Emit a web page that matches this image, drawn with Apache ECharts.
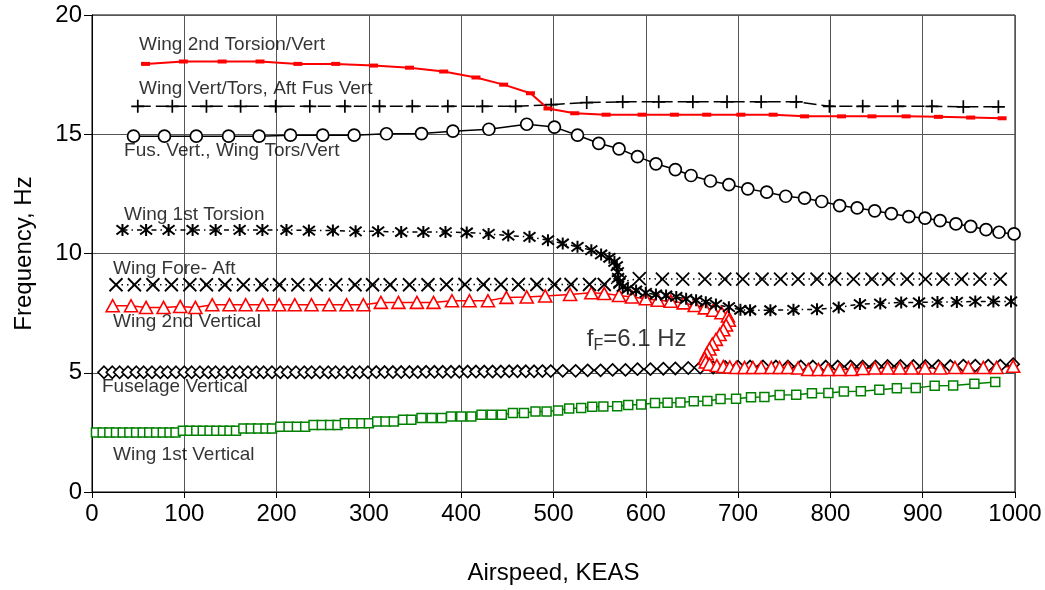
<!DOCTYPE html>
<html><head><meta charset="utf-8">
<script src="https://cdn.jsdelivr.net/npm/echarts@6/dist/echarts.min.js"></script>
<style>html,body{margin:0;padding:0;background:#fff}#c{width:1045px;height:590px}</style>
</head><body><div id="c"></div>
<script>
// Wing 2nd Torsion/Vert (red, small filled rects)
const t2X = [58, 99, 141, 182, 223, 264, 305, 344, 381, 416, 446, 475, 494, 523, 557, 596, 631, 666, 703, 738, 772, 812, 845, 882, 917, 952, 986];
const t2Y = [17.95, 18.05, 18.05, 18.05, 17.95, 17.95, 17.88, 17.79, 17.63, 17.38, 17.08, 16.72, 16.08, 15.88, 15.82, 15.82, 15.82, 15.82, 15.82, 15.82, 15.75, 15.75, 15.75, 15.75, 15.73, 15.7, 15.67];
// Wing Vert/Tors, Aft Fus Vert (+)
const vtX = [49.6, 87, 124, 161, 199, 236, 274, 311.5, 347, 385.5, 423, 459, 497.5, 536, 575, 614, 651, 688, 725, 763, 799, 835, 873, 910, 944, 982];
const vtY = [16.17, 16.17, 16.17, 16.17, 16.17, 16.17, 16.17, 16.17, 16.17, 16.17, 16.17, 16.17, 16.24, 16.33, 16.36, 16.36, 16.36, 16.36, 16.36, 16.36, 16.17, 16.17, 16.17, 16.17, 16.15, 16.15];
// Fus. Vert., Wing Tors/Vert (circles)
const fvX = [45, 78.5, 113, 148, 181, 215, 250, 284, 319, 357, 391, 430, 471, 501, 526, 549, 571, 591, 611, 632, 649, 670, 690, 710.5, 731, 751.6, 772, 790.6, 810, 829, 848, 866, 885, 902.5, 918.8, 936, 952, 968.6, 982.7, 999];
const fvY = [14.92, 14.92, 14.92, 14.92, 14.92, 14.96, 14.96, 14.96, 15.02, 15.03, 15.13, 15.21, 15.42, 15.3, 14.96, 14.62, 14.39, 14.06, 13.76, 13.52, 13.27, 13.04, 12.89, 12.71, 12.57, 12.4, 12.32, 12.18, 12.01, 11.91, 11.79, 11.67, 11.55, 11.48, 11.38, 11.24, 11.14, 11.0, 10.89, 10.82];
// Wing 1st Torsion (asterisks)
const w1tX = [33, 58.6, 83, 109, 134, 160, 184.6, 210.7, 235, 261, 285.6, 310, 335, 359, 383, 406, 429.7, 451, 474, 494, 510, 526, 541, 551.6, 560.6, 566, 568.6, 569.7, 570, 571.5, 575, 580.5, 589.5, 600, 611, 622, 633, 643.7, 654.5, 665, 676, 690, 702.5, 713, 735, 760, 785.5, 809, 832, 854, 876.7, 896, 916, 937, 957, 976.6, 995.7];
const w1tY = [10.99, 10.99, 10.99, 10.99, 10.99, 10.99, 10.99, 10.99, 10.96, 10.96, 10.93, 10.93, 10.9, 10.9, 10.9, 10.88, 10.82, 10.75, 10.7, 10.56, 10.42, 10.28, 10.14, 9.96, 9.82, 9.65, 9.47, 9.22, 8.98, 8.77, 8.6, 8.52, 8.45, 8.35, 8.28, 8.24, 8.18, 8.1, 8.04, 7.96, 7.86, 7.75, 7.64, 7.62, 7.62, 7.64, 7.66, 7.74, 7.88, 7.9, 7.95, 7.95, 7.97, 7.97, 7.99, 7.99, 7.99];
// Wing Fore-Aft (x)
const faX = [26, 46, 66, 86, 106, 124, 144, 164, 184, 203, 223, 243, 264, 285, 304, 323, 344, 364, 384, 404, 424, 443, 462, 482, 501, 519, 539, 555, 572, 593, 618, 640, 664, 685.6, 705, 726, 746, 765, 785.5, 804.6, 825, 845, 863, 883, 903, 922, 942, 962, 984];
const faY = [8.69, 8.69, 8.69, 8.69, 8.69, 8.69, 8.69, 8.69, 8.69, 8.69, 8.69, 8.69, 8.69, 8.69, 8.69, 8.69, 8.69, 8.69, 8.7, 8.7, 8.7, 8.7, 8.7, 8.7, 8.7, 8.7, 8.7, 8.7, 8.8, 8.95, 8.93, 8.93, 8.93, 8.93, 8.93, 8.93, 8.93, 8.93, 8.93, 8.93, 8.93, 8.93, 8.93, 8.93, 8.93, 8.93, 8.93, 8.93, 8.93];
// Wing 2nd Vertical (triangles)
const w2vX = [22.4, 42.3, 58.6, 77.5, 95.6, 112, 130.3, 149, 166.5, 185, 202.7, 219.7, 237.8, 257, 275.8, 294, 313, 332, 352, 370, 390, 409, 429, 449, 471, 491, 518, 541, 555, 571, 585, 600, 613, 627, 641, 653, 664, 673, 682, 689, 690, 687, 684, 680, 676, 672, 669, 666, 664, 665, 669, 677, 684, 691, 698, 707, 716, 725, 736, 745, 754, 765, 776, 787, 797.5, 810, 823, 835, 848, 862, 875, 888, 902.5, 919, 935, 949.5, 965.7, 980, 998];
const w2vY = [7.81, 7.81, 7.74, 7.74, 7.78, 7.74, 7.85, 7.85, 7.85, 7.85, 7.85, 7.85, 7.85, 7.85, 7.85, 7.85, 7.95, 7.95, 7.95, 7.95, 8.02, 8.02, 8.02, 8.16, 8.18, 8.22, 8.28, 8.35, 8.32, 8.24, 8.18, 8.1, 8.04, 8.0, 7.93, 7.82, 7.72, 7.62, 7.52, 7.38, 7.2, 7.0, 6.8, 6.6, 6.4, 6.2, 6.0, 5.8, 5.6, 5.45, 5.36, 5.3, 5.26, 5.24, 5.22, 5.22, 5.22, 5.22, 5.22, 5.22, 5.22, 5.2, 5.14, 5.14, 5.14, 5.14, 5.14, 5.18, 5.2, 5.2, 5.2, 5.2, 5.2, 5.2, 5.22, 5.22, 5.22, 5.22, 5.27];
// Fuselage Vertical (diamonds)
const fuX = [13, 22, 30, 39, 48, 56, 65, 74, 82, 91, 100, 108, 117, 126, 134, 143, 152, 160, 169, 178, 186, 195, 204, 212, 221, 230, 238, 247, 256, 264, 273, 282, 290, 299, 308, 317, 326, 335, 344, 353, 362, 371, 380, 389, 398, 407, 416, 425, 434, 443, 452, 461, 470, 479, 488, 497, 510, 524, 537, 551, 564, 578, 591, 605, 619, 632, 646, 659, 673, 686, 700, 713, 727, 741, 754, 768, 781, 795, 808, 822, 835, 849, 862, 876, 890, 903, 917, 930, 944, 957, 971, 984, 998];
const fuY = [5.02, 5.02, 5.02, 5.02, 5.02, 5.02, 5.02, 5.02, 5.02, 5.02, 5.02, 5.02, 5.02, 5.02, 5.02, 5.02, 5.02, 5.02, 5.02, 5.02, 5.02, 5.02, 5.02, 5.02, 5.02, 5.02, 5.02, 5.02, 5.02, 5.02, 5.02, 5.02, 5.02, 5.02, 5.03, 5.03, 5.03, 5.03, 5.03, 5.03, 5.04, 5.04, 5.04, 5.04, 5.04, 5.05, 5.05, 5.05, 5.05, 5.05, 5.06, 5.06, 5.06, 5.06, 5.07, 5.07, 5.08, 5.08, 5.1, 5.1, 5.12, 5.12, 5.15, 5.15, 5.17, 5.18, 5.2, 5.22, 5.22, 5.24, 5.25, 5.26, 5.26, 5.26, 5.26, 5.26, 5.26, 5.26, 5.26, 5.26, 5.26, 5.26, 5.28, 5.28, 5.28, 5.28, 5.28, 5.28, 5.3, 5.3, 5.3, 5.3, 5.36];
// Wing 1st Vertical (green squares)
const sqX = [4.3, 11.6, 18.8, 26, 33.3, 40.5, 47.8, 55, 62, 69.5, 76.7, 84, 90.5, 98.5, 105.7, 113, 120, 127.4, 134.7, 142, 149, 156, 164, 172, 180, 188, 195, 204, 213, 222, 231, 240, 249, 258, 266, 274, 283, 292, 300, 309, 318, 327, 337, 346, 357, 368, 379, 389, 400, 411, 422, 433, 444, 456, 468, 480.5, 492.5, 505, 517, 530, 542, 554, 569, 581, 595, 610, 623.6, 637.5, 652, 666.7, 681, 697.8, 714, 728.5, 745, 763, 780, 797.8, 814.6, 833, 853, 872, 892.5, 913, 933, 956, 978.6];
const sqY = [2.49, 2.49, 2.49, 2.49, 2.49, 2.49, 2.49, 2.49, 2.49, 2.49, 2.49, 2.49, 2.49, 2.57, 2.57, 2.57, 2.57, 2.57, 2.57, 2.57, 2.57, 2.57, 2.66, 2.66, 2.66, 2.66, 2.66, 2.74, 2.74, 2.74, 2.74, 2.81, 2.81, 2.81, 2.81, 2.88, 2.88, 2.88, 2.88, 2.96, 2.96, 2.96, 3.03, 3.03, 3.1, 3.1, 3.1, 3.17, 3.17, 3.17, 3.24, 3.24, 3.24, 3.31, 3.31, 3.38, 3.38, 3.42, 3.5, 3.52, 3.57, 3.59, 3.6, 3.65, 3.67, 3.73, 3.74, 3.75, 3.8, 3.82, 3.9, 3.91, 3.97, 3.98, 4.07, 4.08, 4.14, 4.15, 4.21, 4.22, 4.29, 4.35, 4.36, 4.46, 4.47, 4.54, 4.61];
// Annotation labels
const labelText = ["Wing 2nd Torsion/Vert", "Wing Vert/Tors, Aft Fus Vert", "Fus. Vert., Wing Tors/Vert", "Wing 1st Torsion", "Wing Fore- Aft", "Wing 2nd Vertical", "Fuselage Vertical", "Wing 1st Vertical"];
const labelX = [51, 51, 34.7, 34.7, 22.8, 22.8, 10.8, 22.8];
const labelY = [18.74, 16.9, 14.3, 11.61, 9.35, 7.13, 4.4, 1.55];
const flutterLabel = {x: 536, y: 6.42};
const xTicks = {min: 0, max: 1000, step: 100};
const yTicks = {min: 0, max: 20, step: 5};

const FONT = "'Liberation Sans', Arial, sans-serif";
const zip = (a, b) => a.map((v, i) => [v, b[i]]);
const PLUS = 'path://M0,5L10,5M5,0L5,10';
const XMARK = 'path://M0,0L10,10M10,0L0,10';
const STAR = 'path://M0,0L10,10M10,0L0,10M5,-1.5L5,11.5';

function line(name, xs, ys, color, lineType, width, symbol, size, fill, bw) {
  return {
    name, type: 'line', data: zip(xs, ys), showSymbol: true, showAllSymbol: true,
    symbol, symbolSize: size, animation: false, silent: true,
    lineStyle: {color, width, type: lineType},
    itemStyle: {color: fill, borderColor: color, borderWidth: bw}
  };
}

const chart = echarts.init(document.getElementById('c'), null, {renderer: 'canvas'});
chart.setOption({
  animation: false,
  backgroundColor: '#fff',
  grid: {left: 92, right: 30, top: 15, bottom: 98, show: true, borderColor: '#000', borderWidth: 1, backgroundColor: 'transparent'},
  xAxis: {
    type: 'value', min: xTicks.min, max: xTicks.max, interval: xTicks.step,
    name: 'Airspeed, KEAS', nameLocation: 'middle', nameGap: 69,
    nameTextStyle: {fontSize: 24, fontFamily: FONT, color: '#000'},
    axisLine: {show: true, lineStyle: {color: '#000', width: 1}},
    axisTick: {show: true, length: 6, lineStyle: {color: '#000'}},
    axisLabel: {fontSize: 24, fontFamily: FONT, color: '#000', margin: 10, formatter: v => String(v)},
    splitLine: {show: true, lineStyle: {color: '#555', width: 1}}
  },
  yAxis: {
    type: 'value', min: yTicks.min, max: yTicks.max, interval: yTicks.step,
    name: 'Frequency, Hz', nameLocation: 'middle', nameGap: 56,
    nameTextStyle: {fontSize: 24, fontFamily: FONT, color: '#000'},
    axisLine: {show: true, lineStyle: {color: '#000', width: 1}},
    axisTick: {show: true, length: 8, lineStyle: {color: '#000'}},
    axisLabel: {fontSize: 24, fontFamily: FONT, color: '#000', margin: 10, formatter: v => String(v)},
    splitLine: {show: true, lineStyle: {color: '#555', width: 1}}
  },
  series: [
    line('Wing 1st Vertical', sqX, sqY, '#008000', 'solid', 1.5, 'rect', 9, '#fff', 1.5),
    line('Fuselage Vertical', fuX, fuY, '#000', 'solid', 1.5, 'diamond', [12, 12], '#fff', 1.7),
    line('Wing 2nd Vertical', w2vX, w2vY, '#ff0000', 'solid', 1.5, 'triangle', [13, 12], '#fff', 1.6),
    line('Wing Fore-Aft', faX, faY, '#000', [1.5, 4], 1.5, XMARK, 13, '#000', 1.8),
    line('Wing 1st Torsion', w1tX, w1tY, '#000', [5, 4, 1.5, 4], 1.5, STAR, 12, '#000', 2),
    line('Fus. Vert., Wing Tors/Vert', fvX, fvY, '#000', 'solid', 1.5, 'circle', 12, '#fff', 1.7),
    line('Wing Vert/Tors, Aft Fus Vert', vtX, vtY, '#000', [13, 5], 1.5, PLUS, 13, '#000', 1.7),
    line('Wing 2nd Torsion/Vert', t2X, t2Y, '#ff0000', 'solid', 2, 'rect', [9, 4], '#ff0000', 0),
    {
      type: 'scatter', silent: true, symbolSize: 0, animation: false,
      data: labelText.map((t, i) => ({value: [labelX[i], labelY[i]], name: t})),
      label: {show: true, position: 'right', distance: 0, formatter: p => p.name,
        fontSize: 19, fontFamily: FONT, color: '#000'}
    },
    {
      type: 'scatter', silent: true, symbolSize: 0, animation: false,
      data: [{value: [flutterLabel.x, flutterLabel.y], name: 'f'}],
      label: {show: true, position: 'right', distance: 0,
        formatter: '{a|f}{b|F}{a|=6.1 Hz}',
        rich: {
          a: {fontSize: 24, fontFamily: FONT, color: '#000'},
          b: {fontSize: 16, fontFamily: FONT, color: '#000', padding: [14, 0, 0, 0]}
        }}
    }
  ]
});
</script></body></html>
